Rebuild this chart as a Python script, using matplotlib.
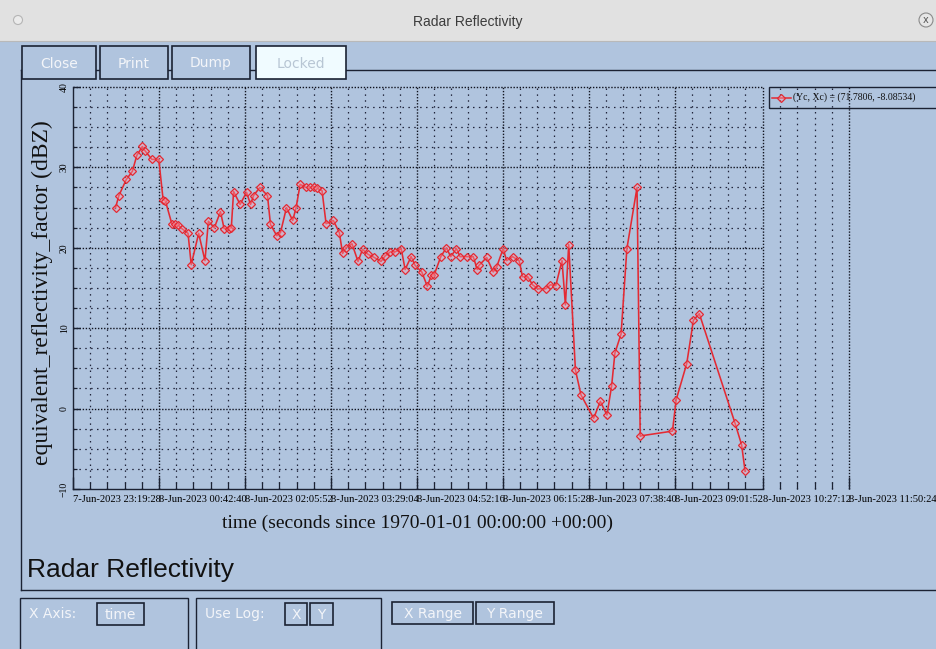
import matplotlib.pyplot as plt
import numpy as np
import pandas as pd
from matplotlib.patches import Rectangle, Ellipse
from matplotlib.lines import Line2D

# ---- data ----
start_time = "2023-06-07 23:19:28"

# minutes after start_time
elapsed_min = [
    41.2, 44.4, 51.6, 57.4, 61.8, 67.1, 69.5, 76.3, 83.0, 87.2,
    89.5, 95.6, 98.5, 102.0, 105.2, 111.3, 114.4, 121.6, 127.7, 131.0,
    136.8, 142.7, 146.2, 150.6, 153.2, 155.4, 161.7, 167.9, 171.8, 174.7,
    180.8, 188.2, 191.1, 197.2, 200.8, 206.6, 212.6, 215.9, 219.8, 225.4,
    229.4, 233.3, 236.3, 241.0, 244.9, 251.9, 257.7, 260.9, 264.2, 270.0,
    275.8, 280.2, 285.4, 291.5, 298.0, 302.1, 307.2, 311.8, 317.6, 321.4,
    327.2, 331.1, 337.5, 342.9, 346.8, 349.4, 355.9, 361.3, 365.5, 371.1,
    374.5, 381.0, 387.3, 391.2, 392.8, 400.3, 406.6, 409.9, 416.3, 419.6,
    425.4, 431.7, 435.0, 440.1, 444.7, 449.8, 457.5, 462.0, 467.2, 473.2,
    476.5, 479.7, 486.2, 491.6, 503.8, 510.3, 516.7, 521.2, 524.4, 530.4,
    536.0, 545.8, 548.9, 580.1, 583.7, 593.9, 600.4, 606.1, 640.6, 647.0,
    650.4,
]

dbz = [
    25.0, 26.5, 28.5, 29.5, 31.5, 32.6, 32.1, 31.0, 31.0, 26.0,
    25.8, 23.0, 22.9, 22.8, 22.4, 21.8, 17.9, 21.8, 18.4, 23.3,
    22.5, 24.5, 22.4, 22.3, 22.5, 27.0, 25.4, 26.9, 25.4, 26.5,
    27.5, 26.5, 22.9, 21.5, 21.9, 25.0, 23.4, 25.0, 27.9, 27.5,
    27.5, 27.6, 27.4, 27.1, 23.0, 23.4, 21.9, 19.3, 20.0, 20.5,
    18.3, 19.8, 19.2, 18.8, 18.3, 19.0, 19.5, 19.5, 19.9, 17.3,
    18.9, 17.8, 17.0, 15.2, 16.6, 16.6, 18.9, 20.0, 18.9, 19.9,
    18.9, 18.9, 18.9, 17.3, 17.8, 18.8, 17.0, 17.6, 19.9, 18.4,
    18.9, 18.4, 16.4, 16.4, 15.4, 14.9, 14.9, 15.4, 15.3, 18.4,
    12.9, 20.4, 4.8, 1.7, -1.2, 0.9, -0.8, 2.8, 6.9, 9.3,
    19.9, 27.5, -3.4, -2.8, 1.1, 5.6, 11.0, 11.8, -1.8, -4.5,
    -7.8,
]

tick_times = [
    "2023-06-07 23:19:28", "2023-06-08 00:42:40", "2023-06-08 02:05:52",
    "2023-06-08 03:29:04", "2023-06-08 04:52:16", "2023-06-08 06:15:28",
    "2023-06-08 07:38:40", "2023-06-08 09:01:52", "2023-06-08 10:27:12",
    "2023-06-08 11:50:24",
]
tick_labels = [
    "7-Jun-2023 23:19:28", "8-Jun-2023 00:42:40", "8-Jun-2023 02:05:52",
    "8-Jun-2023 03:29:04", "8-Jun-2023 04:52:16", "8-Jun-2023 06:15:28",
    "8-Jun-2023 07:38:40", "8-Jun-2023 09:01:52", "8-Jun-2023 10:27:12",
    "8-Jun-2023 11:50:24",
]
box_end_tick = 8  # plot frame ends at this tick
y_ticks = [-10, 0, 10, 20, 30, 40]
legend_label = "(Yc, Xc) = (71.7806, -8.08534)"

# ---- conversions: seconds since 1970 ----
epoch = pd.Timestamp("1970-01-01")
t_start = (pd.Timestamp(start_time) - epoch) // pd.Timedelta("1s")
t_ticks = np.array([(pd.Timestamp(t) - epoch) // pd.Timedelta("1s") for t in tick_times], dtype=float)
t_data = t_start + np.array(elapsed_min) * 60.0
t_box = t_ticks[box_end_tick]

W, H = 936, 649
BG = "#b0c4de"
DARK = "#1b2233"
RED = "#e42a33"
SERIF = ["Liberation Serif", "DejaVu Serif"]
SANS = ["Liberation Sans", "DejaVu Sans"]

fig = plt.figure(figsize=(W / 100, H / 100), dpi=100, facecolor=BG)


def fx(x):
    return x / W


def fy(y):
    return 1 - y / H


def rect(x0, y0, x1, y1, **kw):
    fig.add_artist(Rectangle((fx(x0), fy(y1)), (x1 - x0) / W, (y1 - y0) / H,
                             transform=fig.transFigure, **kw))


def line(xs, ys, **kw):
    fig.add_artist(Line2D([fx(x) for x in xs], [fy(y) for y in ys],
                          transform=fig.transFigure, **kw))


def text(x, y, s, **kw):
    fig.text(fx(x), fy(y), s, **kw)


def button(x0, y0, x1, y1, label, face=BG, tcolor="#f3f5f9", size=10):
    rect(x0, y0, x1, y1, facecolor=face, edgecolor=DARK, lw=1.2, zorder=2)
    text((x0 + x1) / 2, (y0 + y1) / 2 + 1, label, ha="center", va="center",
         color=tcolor, fontsize=size, family=["DejaVu Sans"], zorder=3)


# ---- window chrome ----
rect(0, 0, W, 41, facecolor="#e1e1e1", edgecolor="none", zorder=1)
line([0, W], [41, 41], color="#b9b9b9", lw=0.8, zorder=1)
text(W / 2, 22, "Radar Reflectivity", ha="center", va="center",
     fontsize=10, color="#3c3c3c", family=SANS)
fig.add_artist(Ellipse((fx(18), fy(20)), 9 / W, 9 / H, transform=fig.transFigure,
                       facecolor="#ebebeb", edgecolor="#b5b5b5", lw=0.8))
fig.add_artist(Ellipse((fx(926), fy(20)), 14 / W, 14 / H, transform=fig.transFigure,
                       facecolor="#e6e6e6", edgecolor="#8a8a8a", lw=0.8))
text(926, 20, "x", ha="center", va="center", fontsize=7, color="#555555")

# tab panel
line([21, W], [70, 70], color=DARK, lw=1.0, zorder=1)
line([21, 21], [70, 590], color=DARK, lw=1.0, zorder=1)
line([21, W], [590, 590], color=DARK, lw=1.0, zorder=1)

button(22, 46, 96, 79, "Close")
button(100, 46, 168, 79, "Print")
button(172, 46, 250, 79, "Dump")
button(256, 46, 346, 79, "Locked", face="#f0fbff", tcolor="#b8c6d4")

# bottom controls
rect(20, 598, 188, 670, facecolor="none", edgecolor=DARK, lw=1.0)
rect(196, 598, 381, 670, facecolor="none", edgecolor=DARK, lw=1.0)
text(29, 614, "X Axis:", ha="left", va="center", fontsize=10, color="#f3f5f9",
     family=["DejaVu Sans"])
button(97, 603, 144, 625, "time")
text(205, 614, "Use Log:", ha="left", va="center", fontsize=10, color="#f3f5f9",
     family=["DejaVu Sans"])
button(285, 603, 307, 625, "X")
button(310, 603, 333, 625, "Y")
button(392, 602, 473, 624, "X Range")
button(476, 602, 554, 624, "Y Range")

text(27, 570, "Radar Reflectivity", ha="left", va="center", fontsize=19,
     color="#111111", family=SANS)

# ---- plot ----
ax = fig.add_axes([fx(73), fy(489), (849 - 73) / W, (489 - 87) / H], zorder=3)
ax.set_facecolor("none")
ax.set_xlim(t_ticks[0], t_ticks[-1])
ax.set_ylim(y_ticks[0], y_ticks[-1])

minor_x = np.concatenate([np.linspace(a, b, 6)[1:-1] for a, b in zip(t_ticks[:-1], t_ticks[1:])])
minor_y = [v for v in np.arange(y_ticks[0], y_ticks[-1] + 0.1, 2.5) if v not in y_ticks]

major_ls = (0, (1.0, 1.2))
minor_ls = (0, (1.2, 3.5))
ax.vlines(minor_x, y_ticks[0], y_ticks[-1], colors="#20243a", linestyles=[minor_ls],
          lw=0.9, clip_on=False, zorder=1)
ax.vlines(t_ticks[1:], y_ticks[0], y_ticks[-1], colors="#10131f", linestyles=[major_ls],
          lw=1.0, clip_on=False, zorder=1)
ax.hlines(minor_y, t_ticks[0], t_box, colors="#20243a", linestyles=[minor_ls],
          lw=0.9, zorder=1)
ax.hlines(y_ticks[1:], t_ticks[0], t_box, colors="#10131f", linestyles=[major_ls],
          lw=1.0, clip_on=False, zorder=1)

ax.plot(t_data, dbz, color=RED, lw=1.15, marker="D", ms=4.2,
        mfc=(1, 0.62, 0.68, 0.4), mec=RED, mew=0.9, zorder=5)

for side in ("top", "right"):
    ax.spines[side].set_visible(False)
for side in ("left", "bottom"):
    ax.spines[side].set_color(DARK)
    ax.spines[side].set_linewidth(1.0)
ax.spines["bottom"].set_bounds(t_ticks[0], t_box)

ax.set_xticks(t_ticks, tick_labels)
ax.set_xticks(minor_x, minor=True)
ax.set_yticks(y_ticks)
ax.set_yticks(minor_y, minor=True)
ax.tick_params(axis="x", which="major", direction="in", length=9, width=1.0,
               color=DARK, pad=4, labelsize=7.6)
ax.tick_params(axis="x", which="minor", direction="in", length=5, width=0.9, color=DARK)
ax.tick_params(axis="y", which="major", direction="in", length=5, width=1.0,
               color=DARK, pad=3, labelsize=7, labelrotation=90)
ax.tick_params(axis="y", which="minor", direction="in", length=3, width=0.9, color=DARK)
for lab in ax.get_xticklabels():
    lab.set_ha("left")
    lab.set_family(SERIF)
for lab in ax.get_yticklabels():
    lab.set_family(SERIF)
    lab.set_va("center")

text(42, 293, "equivalent_reflectivity_factor (dBZ)", rotation=90, ha="center",
     va="center", fontsize=17, family=SERIF, color="#111111")
text(418, 523, "time (seconds since 1970-01-01 00:00:00 +00:00)", ha="center",
     va="center", fontsize=14, family=SERIF, color="#111111")

# legend box (transparent, grid shows through as in the original)
rect(769, 87, 940, 108, facecolor="none", edgecolor=DARK, lw=1.0, zorder=4)
line([772, 781, 791], [97.5, 97.5, 97.5], color=RED, lw=1.1, marker="D", ms=4.2,
     markevery=[1], mfc=(1, 0.62, 0.68, 0.4), mec=RED, mew=0.9, zorder=4)
text(793, 97.5, legend_label, ha="left", va="center", fontsize=7, family=SERIF,
     color="#111111", zorder=4)

fig.savefig("out.png", dpi=100, facecolor=BG)
